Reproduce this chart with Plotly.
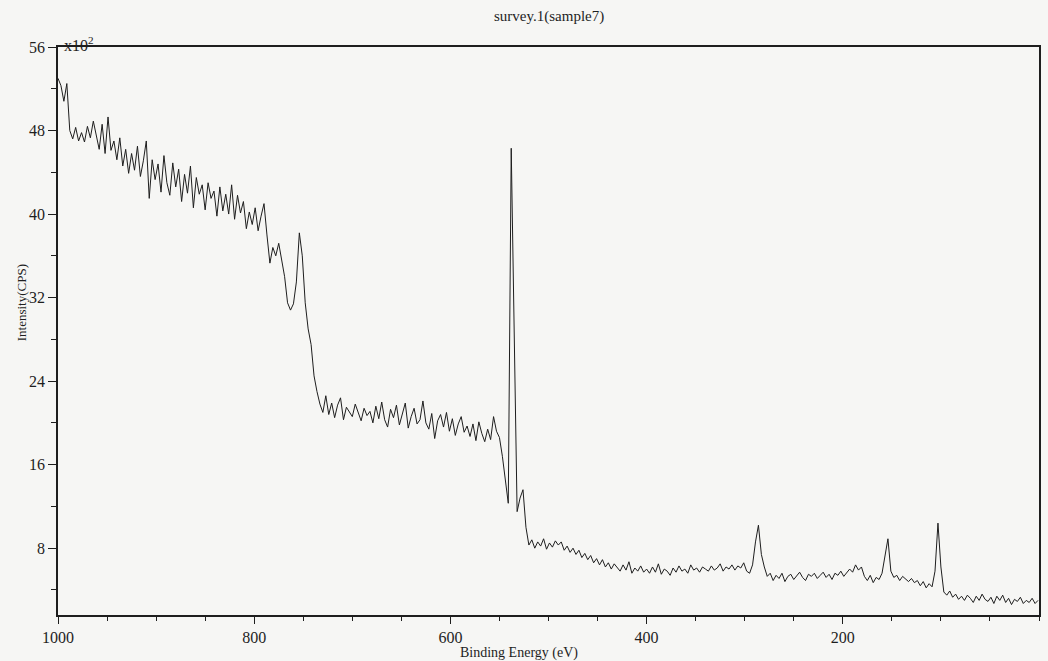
import plotly.graph_objects as go

# Binding energy grid (eV), 3 eV steps from 1000 down to 1
energy = list(range(1000, 0, -3))

# Intensity in units of 10^2 CPS (10 values per row)
intensity = [
    53.0, 52.3, 50.8, 52.5, 48.0, 47.2, 48.3, 47.0, 47.8, 46.9,   # 1000..973
    48.4, 47.3, 48.9, 47.6, 46.2, 48.6, 45.8, 49.3, 46.1, 47.0,   # 970..943
    45.2, 47.3, 44.6, 46.2, 43.9, 45.8, 44.2, 46.5, 43.6, 45.1,   # 940..913
    47.0, 41.5, 45.2, 43.3, 44.8, 42.1, 45.6, 43.0, 41.8, 44.9,   # 910..883
    42.6, 44.3, 41.2, 43.8, 42.0, 44.6, 40.6, 43.5, 41.9, 42.8,   # 880..853
    40.4, 43.0, 41.5, 42.2, 39.8, 42.6, 40.3, 41.9, 40.0, 42.8,   # 850..823
    39.5, 41.8, 40.1, 41.2, 38.6, 40.2, 39.0, 40.6, 38.4, 39.8,   # 820..793
    41.0, 38.0, 35.3, 36.8, 36.0, 37.2, 35.5, 34.0, 31.5, 30.8,   # 790..763
    31.4, 33.5, 38.2, 36.0, 31.5, 29.0, 27.5, 24.5, 23.0, 21.8,   # 760..733
    21.0, 22.6, 20.8, 21.9, 20.5, 21.7, 22.4, 20.3, 21.5, 21.0,   # 730..703
    20.6, 21.8, 20.9, 20.2, 21.4, 20.7, 21.1, 20.0, 21.6, 20.4,   # 700..673
    22.0, 20.3, 19.6, 21.3, 20.5, 21.7, 19.8, 20.8, 21.9, 19.5,   # 670..643
    20.6, 21.4, 19.9, 20.3, 22.1, 20.0, 19.4, 20.9, 18.5, 20.2,   # 640..613
    20.8, 19.6, 21.0, 19.2, 20.4, 18.8, 19.9, 20.6, 19.1, 19.7,   # 610..583
    18.7, 19.9, 18.3, 20.1, 19.0, 18.2, 19.4, 18.4, 20.6, 19.2,   # 580..553
    18.6, 16.8, 14.5, 12.3, 46.3, 26.5, 11.5, 12.8, 13.6, 10.0,   # 550..523
    8.3, 8.8, 8.0, 8.6, 8.2, 8.9, 7.9, 8.5, 8.1, 8.7,             # 520..493
    8.3, 8.6, 7.8, 8.2, 7.6, 8.0, 7.4, 7.8, 7.1, 7.5,             # 490..463
    6.9, 7.3, 6.6, 7.0, 6.4, 6.9, 6.2, 6.6, 6.0, 6.5,             # 460..433
    6.2, 5.8, 6.4, 5.9, 6.7, 5.6, 6.1, 5.8, 6.3, 5.7,             # 430..403
    6.0, 5.6, 6.2, 5.7, 6.5, 5.5, 6.0, 5.8, 5.4, 6.1,             # 400..373
    5.7, 6.3, 5.8, 6.0, 5.6, 6.4, 5.9, 6.1, 5.7, 6.2,             # 370..343
    6.0, 5.8, 6.3, 5.9, 6.1, 6.5, 5.8, 6.2, 6.0, 6.4,             # 340..313
    5.9, 6.3, 6.1, 6.6, 5.8, 5.6, 6.4, 8.6, 10.2, 7.4,            # 310..283
    6.2, 5.3, 5.6, 4.9, 5.4, 5.1, 5.6, 4.8, 5.3, 5.5,             # 280..253
    5.0, 5.4, 5.7, 5.2, 4.9, 5.5, 5.3, 5.6, 5.1, 5.4,             # 250..223
    5.7, 5.2, 5.5, 5.0, 5.6, 5.4, 5.8, 5.3, 5.6, 6.0,             # 220..193
    5.7, 6.4, 5.9, 6.2, 5.3, 4.9, 5.4, 4.7, 5.2, 5.0,             # 190..163
    5.6, 7.2, 8.9, 5.8, 5.2, 5.4, 4.9, 5.3, 5.0, 4.8,             # 160..133
    5.1, 4.7, 4.9, 4.4, 4.8, 4.2, 4.6, 4.3, 5.8, 10.4,            # 130..103
    6.2, 3.8, 3.5, 3.9, 3.3, 3.6, 3.1, 3.4, 3.0, 3.5,             # 100..73
    3.2, 2.8, 3.4, 3.0, 3.6, 3.1, 2.9, 3.3, 2.7, 3.4,             # 70..43
    3.0, 3.5, 2.8, 3.2, 2.6, 3.1, 2.9, 3.3, 2.7, 3.0,             # 40..13
    2.8, 3.2, 2.7, 3.0,                                           # 10..1
]

x_ticks = [1000, 800, 600, 400, 200]
x_ticktext = ["1000", "800", "600", "400", "200"]
y_ticks = [8, 16, 24, 32, 40, 48, 56]
y_ticktext = ["8", "16", "24", "32", "40", "48", "56"]

title_text = "survey.1(sample7)"
x_title = "Binding Energy (eV)"
y_title = "Intensity(CPS)"

bg = "#f6f6f4"
ink = "#1e1e1e"
serif = "Liberation Serif"

fig = go.Figure()
fig.add_trace(go.Scatter(x=energy, y=intensity, mode="lines",
                         line=dict(color=ink, width=1), showlegend=False))

fig.update_layout(
    width=1048, height=661,
    margin=dict(l=58, r=7, t=47, b=46),
    paper_bgcolor=bg, plot_bgcolor=bg,
    font=dict(family=serif, size=16, color=ink),
    xaxis=dict(range=[1000, 0], tickvals=x_ticks, ticktext=x_ticktext,
               ticks="outside", ticklen=7, tickwidth=1.3, tickcolor=ink,
               showline=True, linecolor=ink, linewidth=1.6, mirror=True,
               showgrid=False, zeroline=False,
               minor=dict(tick0=0, dtick=50, ticks="outside", ticklen=4,
                          tickcolor=ink, tickwidth=1.2, showgrid=False),
               tickfont=dict(family=serif, size=16, color=ink)),
    yaxis=dict(range=[1.6, 56], tickvals=y_ticks, ticktext=y_ticktext,
               ticks="outside", ticklen=8, tickwidth=1.3, tickcolor=ink,
               showline=True, linecolor=ink, linewidth=1.6, mirror=True,
               showgrid=False, zeroline=False,
               minor=dict(tick0=0, dtick=4, ticks="outside", ticklen=5,
                          tickcolor=ink, tickwidth=1.2, showgrid=False),
               tickfont=dict(family=serif, size=16, color=ink)),
)

fig.add_annotation(text=title_text, xref="paper", yref="paper",
                   x=0.50, y=1, yanchor="middle", yshift=31, showarrow=False,
                   font=dict(family=serif, size=15, color=ink))
fig.add_annotation(text="x10<sup>2</sup>", xref="paper", yref="paper",
                   x=0.004, y=1, xanchor="left", yanchor="middle", yshift=3,
                   showarrow=False, font=dict(family=serif, size=16, color=ink))
fig.add_annotation(text=x_title, xref="paper", yref="paper",
                   x=0.47, y=0, yanchor="middle", yshift=-38, showarrow=False,
                   font=dict(family=serif, size=14, color=ink))
fig.add_annotation(text=y_title, xref="paper", yref="paper",
                   x=-0.037, y=0.55, xanchor="center", yanchor="middle",
                   textangle=-90, showarrow=False,
                   font=dict(family=serif, size=13, color=ink))

fig.write_html("out.html")
